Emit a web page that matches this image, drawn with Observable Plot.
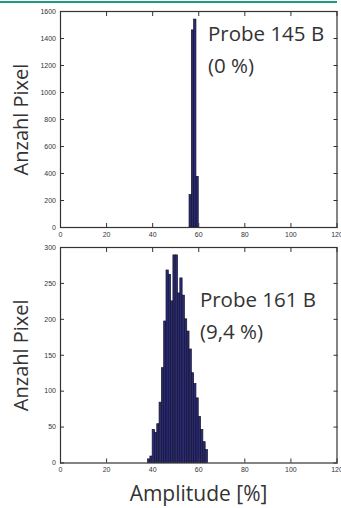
<!DOCTYPE html>
<html><head><meta charset="utf-8">
<script src="https://cdn.jsdelivr.net/npm/d3@7"></script>
<script src="https://cdn.jsdelivr.net/npm/@observablehq/plot@0.6"></script>
<style>
html,body{margin:0;padding:0;background:#fff;}
#wrap{position:relative;width:341px;height:508px;overflow:hidden;}
#rule{position:absolute;left:0;top:1px;width:337px;height:2px;background:#1f9b7f;z-index:2;}
#xlabel{margin-left:60px;width:277px;text-align:center;font-family:"Open Sans",sans-serif;font-size:21px;line-height:30px;color:#333;}
svg{display:block;}
</style></head><body><div id="wrap"><div id="rule"></div><div id="top"></div><div id="bottom"></div><div id="xlabel">Amplitude [%]</div></div>
<script>
const xTicks = [0, 20, 40, 60, 80, 100, 120];
const topBins = [56, 57, 58, 59];
const topCounts = [240, 1460, 1540, 375];
const topYTicks = [0, 200, 400, 600, 800, 1000, 1200, 1400, 1600];
const topNote = ["Probe 145 B", "(0 %)"];
const bottomBins = [38, 39, 40, 41, 42, 43, 44, 45, 46, 47, 48, 49, 50, 51, 52, 53, 54, 55, 56, 57, 58, 59, 60, 61, 62, 63];
const bottomCounts = [5, 9, 46, 42, 54, 84, 132, 197, 268, 262, 225, 289, 289, 236, 257, 233, 200, 183, 158, 125, 110, 90, 64, 46, 29, 18];
const bottomYTicks = [0, 50, 100, 150, 200, 250, 300];
const bottomNote = ["Probe 161 B", "(9,4 %)"];
const yLabel = "Anzahl Pixel";

function panel({bins, counts, yTicks, note, noteX, noteY, height, marginTop, marginBottom}) {
  const data = bins.map((b, i) => ({x1: b, x2: b + 1, count: counts[i]}));
  const fmt = d => String(d);
  return Plot.plot({
    width: 341, height, marginLeft: 60, marginRight: 4.5, marginTop, marginBottom,
    style: {fontFamily: "'Liberation Sans', Arial, sans-serif", fontSize: "7px", color: "#333", background: "transparent"},
    x: {domain: [xTicks[0], xTicks[xTicks.length - 1]]},
    y: {domain: [yTicks[0], yTicks[yTicks.length - 1]]},
    marks: [
      Plot.rectY(data, {x1: "x1", x2: "x2", y: "count", fill: "#2a2a78", stroke: "#141428", strokeWidth: 0.7}),
      Plot.frame({stroke: "#333", strokeWidth: 1.2}),
      Plot.axisX(xTicks, {anchor: "bottom", tickSize: -4, tickPadding: 8.5, tickFormat: fmt, label: null}),
      Plot.axisX(xTicks, {anchor: "top", tickSize: -4, tickFormat: () => "", label: null}),
      Plot.axisY(yTicks, {anchor: "left", tickSize: -4, tickPadding: 8.5, tickFormat: fmt, label: null}),
      Plot.axisY(yTicks, {anchor: "right", tickSize: -4, tickFormat: () => "", label: null}),
      Plot.text([yLabel], {frameAnchor: "left", textAnchor: "middle", rotate: -90, dx: -39, fontSize: 20, fill: "#333", fontFamily: "'Open Sans', sans-serif"}),
      Plot.text([note.join("\n")], {x: noteX, y: noteY, textAnchor: "start", lineAnchor: "top", lineHeight: 1.55, fontSize: 20.5, fill: "#333", fontFamily: "'Open Sans', sans-serif"})
    ]
  });
}

document.getElementById("top").append(panel({
  bins: topBins, counts: topCounts, yTicks: topYTicks, note: topNote,
  noteX: 64, noteY: 1550, height: 240, marginTop: 11, marginBottom: 13
}));
document.getElementById("bottom").append(panel({
  bins: bottomBins, counts: bottomCounts, yTicks: bottomYTicks, note: bottomNote,
  noteX: 60.5, noteY: 248, height: 238, marginTop: 7, marginBottom: 15.5
}));
</script></body></html>
